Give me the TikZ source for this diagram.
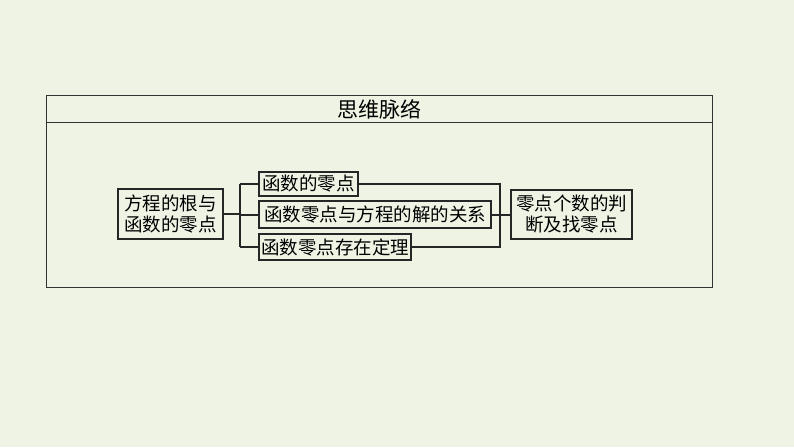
\documentclass[tikz,border=0pt]{standalone}
\usepackage{fontspec}
\newfontfamily\cjk{Noto Sans CJK SC}
\definecolor{bg}{HTML}{EEF3E4}
\begin{document}
\begin{tikzpicture}[x=1pt,y=-1pt,
  bx/.style={draw=black!85,line width=2pt,fill=bg,inner sep=0pt,font=\cjk\fontsize{18.5}{21}\selectfont,anchor=north west,align=center},
  ln/.style={black!85,line width=2pt}]
\fill[bg] (0,0) rectangle (794,447);
\useasboundingbox (0,0) rectangle (794,447);
\draw[black!80,line width=1pt] (46,95) rectangle (712,287);
\draw[black!80,line width=1pt] (46,122) -- (712,122);
\node[font=\cjk\fontsize{21}{24}\selectfont] (t) at (379,109) {思维脉络};
\node[bx,minimum width=105pt,minimum height=50pt] (L) at (117,188) {方程的根与\\函数的零点};
\node[bx,minimum width=99pt,minimum height=24pt] (a) at (258,171) {函数的零点};
\node[bx,minimum width=232pt,minimum height=27pt] (b) at (258,200) {函数零点与方程的解的关系};
\node[bx,minimum width=152pt,minimum height=26pt] (c) at (258,233) {函数零点存在定理};
\node[bx,minimum width=121pt,minimum height=49pt] (R) at (510,189) {零点个数的判\\断及找零点};
\coordinate (lv) at (240,0);
\coordinate (rv) at (500,0);
\draw[ln] (L.east) -- (L.east -| lv);
\draw[ln] (a.west -| lv) -- (c.west -| lv);
\draw[ln] (a.west -| lv) -- (a.west);
\draw[ln] (b.west -| lv) -- (b.west);
\draw[ln] (c.west -| lv) -- (c.west);
\draw[ln] (a.east) -- (a.east -| rv) -- (c.east -| rv) -- (c.east);
\draw[ln] (b.east) -- (R.west |- b.east);
\end{tikzpicture}
\end{document}
